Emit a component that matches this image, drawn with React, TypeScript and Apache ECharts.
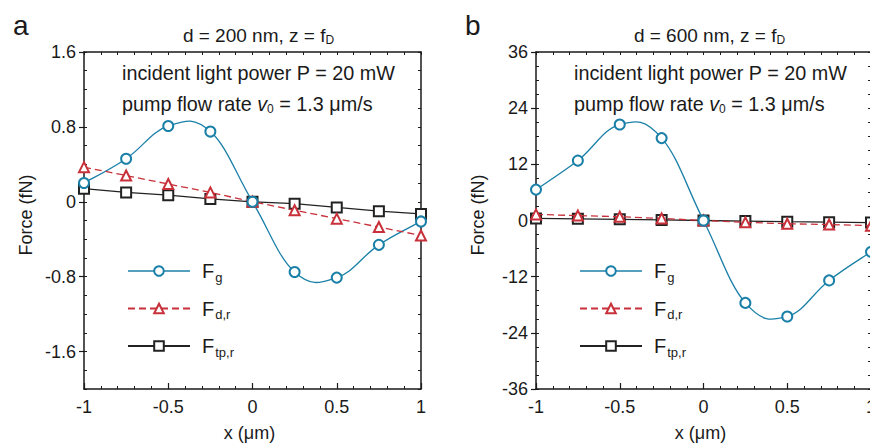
import React, { useEffect, useRef } from "react";
import * as echarts from "echarts";

// ---- data ----
const xValues = [-1, -0.75, -0.5, -0.25, 0, 0.25, 0.5, 0.75, 1];

const fgA = [0.2, 0.46, 0.81, 0.75, 0, -0.75, -0.81, -0.46, -0.21];
const fdrA = [0.37, 0.28, 0.19, 0.1, 0, -0.09, -0.18, -0.27, -0.36];
const ftprA = [0.14, 0.1, 0.07, 0.03, 0, -0.02, -0.06, -0.1, -0.13];

const fgB = [6.6, 12.8, 20.5, 17.6, 0, -17.6, -20.5, -12.8, -6.7];
const fdrB = [1.3, 1.05, 0.8, 0.45, 0, -0.4, -0.7, -0.85, -1.1];
const ftprB = [0.45, 0.35, 0.25, 0.12, 0, -0.12, -0.25, -0.35, -0.45];

const yTicksA = [-1.6, -0.8, 0, 0.8, 1.6];
const yTicksB = [-36, -24, -12, 0, 12, 24, 36];
const xTicks = [-1, -0.5, 0, 0.5, 1];

const seriesNames = ["Fg", "Fd,r", "Ftp,r"];
const legendSubs: Record<string, string> = { Fg: "g", "Fd,r": "d,r", "Ftp,r": "tp,r" };

// ---- style ----
const FONT = "'Liberation Sans', Arial, Helvetica, sans-serif";
const INK = "#1a1a1a";
const BLUE = "#1b80a8";
const RED = "#c8303a";
const BLACK = "#222222";
const TENSION = 0.2;

function pairs(ys: number[]) {
  return xValues.map((x, i) => [x, ys[i]]);
}

// smooth curve through the data points, drawn segment by segment in pixel space
function splineSeries(data: number[][], color: string, xIdx: number, yIdx: number) {
  return {
    type: "custom",
    xAxisIndex: xIdx,
    yAxisIndex: yIdx,
    data,
    encode: { x: 0, y: 1 },
    silent: true,
    z: 3,
    renderItem: (params: any, api: any) => {
      const i = params.dataIndex;
      const n = data.length;
      if (i >= n - 1) return null;
      const P = (k: number) => api.coord(data[Math.max(0, Math.min(n - 1, k))]);
      const p0 = P(i - 1);
      const p1 = P(i);
      const p2 = P(i + 1);
      const p3 = P(i + 2);
      return {
        type: "bezierCurve",
        shape: {
          x1: p1[0],
          y1: p1[1],
          x2: p2[0],
          y2: p2[1],
          cpx1: p1[0] + (p2[0] - p0[0]) * TENSION,
          cpy1: p1[1] + (p2[1] - p0[1]) * TENSION,
          cpx2: p2[0] - (p3[0] - p1[0]) * TENSION,
          cpy2: p2[1] - (p3[1] - p1[1]) * TENSION,
        },
        style: { stroke: color, lineWidth: 1.3, fill: null },
      };
    },
  };
}

const GRID_TOP = 52;
const GRID_H = 337;
const panels = [
  {
    left: 84,
    width: 337,
    yMin: -2,
    yMax: 1.6,
    yInterval: 0.4,
    yMinor: 0.2,
    yTicks: yTicksA,
    data: [fgA, fdrA, ftprA],
    label: "a",
    title: "d = 200 nm, z = f{s|D}",
  },
  {
    left: 536,
    width: 335,
    yMin: -36,
    yMax: 36,
    yInterval: 12,
    yMinor: 3,
    yTicks: yTicksB,
    data: [fgB, fdrB, ftprB],
    label: "b",
    title: "d = 600 nm, z = f{s|D}",
  },
];

export default function App() {
  const ref = useRef<HTMLDivElement>(null);

  useEffect(() => {
    if (!ref.current) return;
    const chart = echarts.init(ref.current, null, { renderer: "svg" });

    const axisLine = { show: true, onZero: false, lineStyle: { color: INK, width: 1.5 } };
    const grid: any[] = [];
    const xAxis: any[] = [];
    const yAxis: any[] = [];
    const series: any[] = [];
    const legend: any[] = [];
    const graphic: any[] = [];

    panels.forEach((p, i) => {
      grid.push({
        left: p.left,
        top: GRID_TOP,
        width: p.width,
        height: GRID_H,
        containLabel: false,
        outerBoundsMode: "none",
      });
      xAxis.push({
        type: "value",
        gridIndex: i,
        position: "bottom",
        min: -1,
        max: 1,
        interval: 0.5,
        axisLine,
        axisTick: { show: true, inside: true, length: 6, lineStyle: { color: INK, width: 1.2 } },
        minorTick: { show: true, splitNumber: 5, length: 3, lineStyle: { color: INK, width: 1 } },
        axisLabel: {
          show: true,
          customValues: xTicks,
          fontSize: 18,
          fontFamily: FONT,
          color: INK,
          margin: 9,
          hideOverlap: false,
        },
        splitLine: { show: false },
        minorSplitLine: { show: false },
      });
      xAxis.push({
        type: "value",
        gridIndex: i,
        position: "top",
        min: -1,
        max: 1,
        interval: 0.1,
        axisLine,
        axisTick: { show: true, inside: true, length: 3, lineStyle: { color: INK, width: 1 } },
        axisLabel: { show: false },
        splitLine: { show: false },
      });
      yAxis.push({
        type: "value",
        gridIndex: i,
        position: "left",
        min: p.yMin,
        max: p.yMax,
        interval: p.yInterval,
        axisLine,
        axisTick: { show: true, inside: false, length: 5, customValues: p.yTicks, lineStyle: { color: INK, width: 1.2 } },
        axisLabel: {
          show: true,
          customValues: p.yTicks,
          fontSize: 18,
          fontFamily: FONT,
          color: INK,
          margin: 8,
        },
        splitLine: { show: false },
      });
      yAxis.push({
        type: "value",
        gridIndex: i,
        position: "left",
        min: p.yMin,
        max: p.yMax,
        interval: p.yMinor,
        axisLine: { show: false, onZero: false },
        axisTick: { show: true, inside: true, length: 3, lineStyle: { color: INK, width: 1 } },
        axisLabel: { show: false },
        splitLine: { show: false },
      });
      yAxis.push({
        type: "value",
        gridIndex: i,
        position: "right",
        min: p.yMin,
        max: p.yMax,
        interval: p.yMinor,
        axisLine,
        axisTick: { show: true, inside: true, length: 3, lineStyle: { color: INK, width: 1 } },
        axisLabel: { show: false },
        splitLine: { show: false },
      });

      const xIdx = i * 2;
      const yIdx = i * 3;
      series.push({
        name: "Ftp,r",
        type: "line",
        xAxisIndex: xIdx,
        yAxisIndex: yIdx,
        data: pairs(p.data[2]),
        symbol: "emptyRect",
        symbolSize: 10,
        itemStyle: { color: BLACK, borderWidth: 1.3 },
        lineStyle: { color: BLACK, width: 1.3 },
        z: 2,
      });
      series.push({
        name: "Fd,r",
        type: "line",
        xAxisIndex: xIdx,
        yAxisIndex: yIdx,
        data: pairs(p.data[1]),
        symbol: "emptyTriangle",
        symbolSize: 10,
        itemStyle: { color: RED, borderWidth: 1.3 },
        lineStyle: { color: RED, width: 1.3, type: [7, 4] },
        z: 3,
      });
      series.push(splineSeries(pairs(p.data[0]), BLUE, xIdx, yIdx));
      series.push({
        name: "Fg",
        type: "line",
        xAxisIndex: xIdx,
        yAxisIndex: yIdx,
        data: pairs(p.data[0]),
        symbol: "emptyCircle",
        symbolSize: 10,
        itemStyle: { color: BLUE, borderWidth: 1.3 },
        lineStyle: { color: BLUE, width: 1.3, opacity: 0 },
        z: 4,
      });

      legend.push({
        left: p.left + 38,
        top: 256,
        orient: "vertical",
        itemWidth: 62,
        itemHeight: 12,
        itemGap: 15,
        selectedMode: false,
        data: [
          { name: "Fg", lineStyle: { opacity: 1, color: BLUE, width: 1.3 } },
          seriesNames[1],
          seriesNames[2],
        ],
        formatter: (name: string) => `{m|F}{s|${legendSubs[name]}}`,
        textStyle: {
          fontFamily: FONT,
          color: INK,
          rich: {
            m: { fontSize: 20, fontFamily: FONT, color: INK, padding: [0, 0, 0, 7] },
            s: { fontSize: 13, fontFamily: FONT, color: INK, padding: [12, 0, 0, 1] },
          },
        },
      });

      const center = p.left + p.width / 2;
      graphic.push({
        type: "text",
        x: p.left - 71,
        y: 25,
        style: { text: p.label, fontSize: 28, fontFamily: FONT, fill: INK, verticalAlign: "middle" },
      });
      graphic.push({
        type: "text",
        x: center + 6,
        y: 35,
        style: {
          text: p.title,
          fontSize: 19,
          fontFamily: FONT,
          fill: INK,
          align: "center",
          verticalAlign: "middle",
          rich: {
            s: { fontSize: 12, fontFamily: FONT, fill: INK, padding: [9, 0, 0, 0] },
          },
        },
      });
      graphic.push({
        type: "text",
        x: p.left + 38,
        y: 73,
        style: {
          text: "incident light power P = 20 mW",
          fontSize: 19.8,
          fontFamily: FONT,
          fill: INK,
          verticalAlign: "middle",
        },
      });
      graphic.push({
        type: "text",
        x: p.left + 38,
        y: 104,
        style: {
          text: "pump flow rate {i|v}{s|0} = 1.3 μm/s",
          fontSize: 19.8,
          fontFamily: FONT,
          fill: INK,
          verticalAlign: "middle",
          rich: {
            i: { fontSize: 19.8, fontFamily: FONT, fontStyle: "italic", fill: INK },
            s: { fontSize: 12, fontFamily: FONT, fill: INK, padding: [9, 0, 0, 0] },
          },
        },
      });
      graphic.push({
        type: "text",
        x: p.left - 58,
        y: 215,
        rotation: Math.PI / 2,
        style: {
          text: "Force (fN)",
          fontSize: 18,
          fontFamily: FONT,
          fill: INK,
          align: "center",
          verticalAlign: "middle",
        },
      });
      graphic.push({
        type: "text",
        x: center - 3,
        y: 433,
        style: {
          text: "x (μm)",
          fontSize: 18,
          fontFamily: FONT,
          fill: INK,
          align: "center",
          verticalAlign: "middle",
        },
      });
    });

    chart.setOption({
      animation: false,
      backgroundColor: "#ffffff",
      grid,
      xAxis,
      yAxis,
      series,
      legend,
      graphic,
    });

    return () => chart.dispose();
  }, []);

  return (
    <div
      ref={ref}
      style={{ position: "absolute", left: 0, top: 0, width: 870, height: 443, overflow: "hidden" }}
    />
  );
}
